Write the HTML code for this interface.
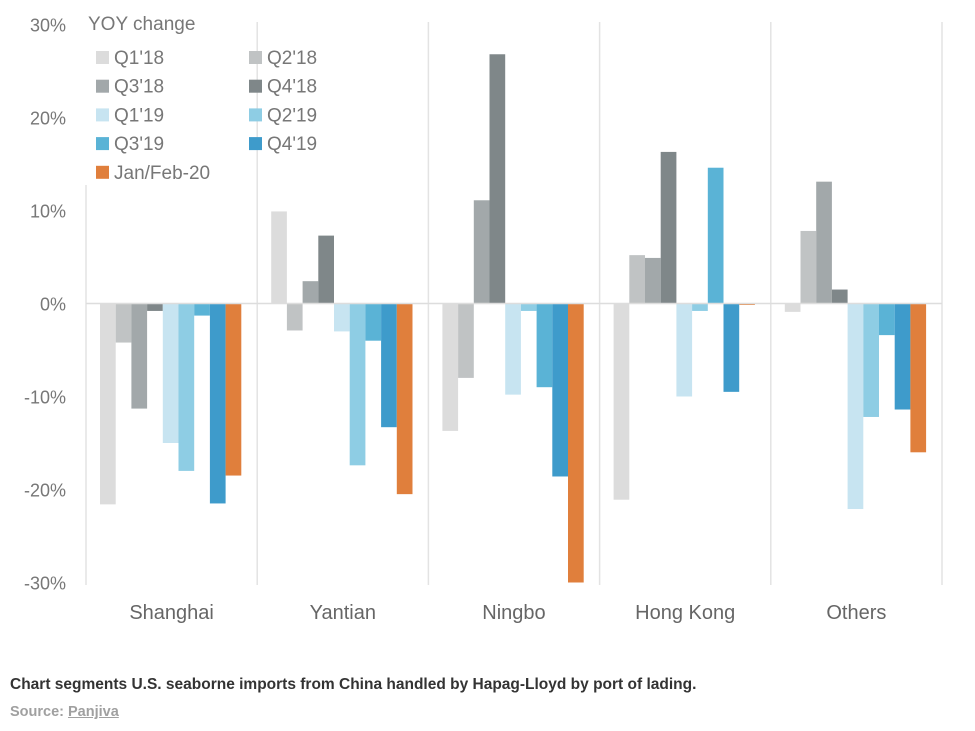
<!DOCTYPE html>
<html><head><meta charset="utf-8"><style>
body{margin:0;background:#fff;width:975px;height:731px;overflow:hidden;font-family:"Liberation Sans",sans-serif}
.cap{position:absolute;left:10px;top:676px;font-size:15.5px;font-weight:bold;color:#333}
.src{position:absolute;left:10px;top:704px;font-size:14.5px;font-weight:bold;color:#a0a0a0}
.src span{text-decoration:underline}
</style></head><body>
<svg id="chart" width="975" height="660" style="position:absolute;left:0;top:0"></svg>
<div class="cap">Chart segments U.S. seaborne imports from China handled by Hapag-Lloyd by port of lading.</div>
<div class="src">Source: <span>Panjiva</span></div>
<script>
const categories=["Shanghai","Yantian","Ningbo","Hong Kong","Others"];
const seriesNames=["Q1'18","Q2'18","Q3'18","Q4'18","Q1'19","Q2'19","Q3'19","Q4'19","Jan/Feb-20"];
const colors=["#dcdcdc","#c0c3c4","#a2a8aa","#7f8789","#c7e4f1","#8ecde4","#5ab3d6","#3e9bcb","#e07f3c"];
const q1_18=[-21.6,9.9,-13.7,-21.1,-0.9];
const q2_18=[-4.2,-2.9,-8.0,5.2,7.8];
const q3_18=[-11.3,2.4,11.1,4.9,13.1];
const q4_18=[-0.8,7.3,26.8,16.3,1.5];
const q1_19=[-15.0,-3.0,-9.8,-10.0,-22.1];
const q2_19=[-18.0,-17.4,-0.8,-0.8,-12.2];
const q3_19=[-1.3,-4.0,-9.0,14.6,-3.4];
const q4_19=[-21.5,-13.3,-18.6,-9.5,-11.4];
const jan20=[-18.5,-20.5,-30.0,-0.15,-16.0];
const series=[q1_18,q2_18,q3_18,q4_18,q1_19,q2_19,q3_19,q4_19,jan20];
const yTicks=[30,20,10,0,-10,-20,-30];
const yTickLabels=["30%","20%","10%","0%","-10%","-20%","-30%"];

const NS="http://www.w3.org/2000/svg";
const svg=document.getElementById('chart');
const x0=86,gw=171.2,y0=303.5,k=9.3;
const y=v=>y0-v*k;
const gx=i=>x0+i*gw;
function mk(t,a){const e=document.createElementNS(NS,t);for(const n in a)e.setAttribute(n,a[n]);svg.appendChild(e);return e;}
for(let i=0;i<=categories.length;i++){
  const l=mk('line',{x1:gx(i),x2:gx(i),y1:i==0?185:22,y2:585,stroke:'#e3e3e3','stroke-width':1.5});
  
  
}
yTicks.forEach((t,i)=>{
  const tx=mk('text',{x:66,y:y(t)+7,'text-anchor':'end','font-size':18,fill:'#777'});
  tx.textContent=yTickLabels[i];
  
  
});
const bw=15.7;
categories.forEach((c,ci)=>{
  series.forEach((s,si)=>{
    const v=s[ci];const bx=gx(ci)+14+si*bw;
    const r=mk('rect',{x:bx,y:Math.min(y(v),y0),width:bw,height:Math.max(Math.abs(y(v)-y0),0.8),fill:colors[si]});
    
    
  });
  const t=mk('text',{x:gx(ci)+gw/2,y:619,'text-anchor':'middle','font-size':20,fill:'#666'});
  t.textContent=c;
  
  
});
const z=mk('line',{x1:x0,x2:gx(5),y1:y0,y2:y0,stroke:'#ddd','stroke-width':1.5});


const lt=mk('text',{x:88,y:30,'font-size':19,fill:'#777'});
lt.textContent='YOY change';


seriesNames.forEach((n,i)=>{
  const col=i%2,row=Math.floor(i/2);
  const lx=col?249:96,ly=57+row*28.7;
  const g=document.createElementNS(NS,'g');svg.appendChild(g);
  
  
  const r=document.createElementNS(NS,'rect');
  r.setAttribute('x',lx);r.setAttribute('y',ly-6);r.setAttribute('width',13);r.setAttribute('height',13);r.setAttribute('fill',colors[i]);
  g.appendChild(r);
  const t=document.createElementNS(NS,'text');
  t.setAttribute('x',lx+18);t.setAttribute('y',ly+7);t.setAttribute('font-size',19);t.setAttribute('fill','#777');
  t.textContent=n;g.appendChild(t);
});
</script>
</body></html>
